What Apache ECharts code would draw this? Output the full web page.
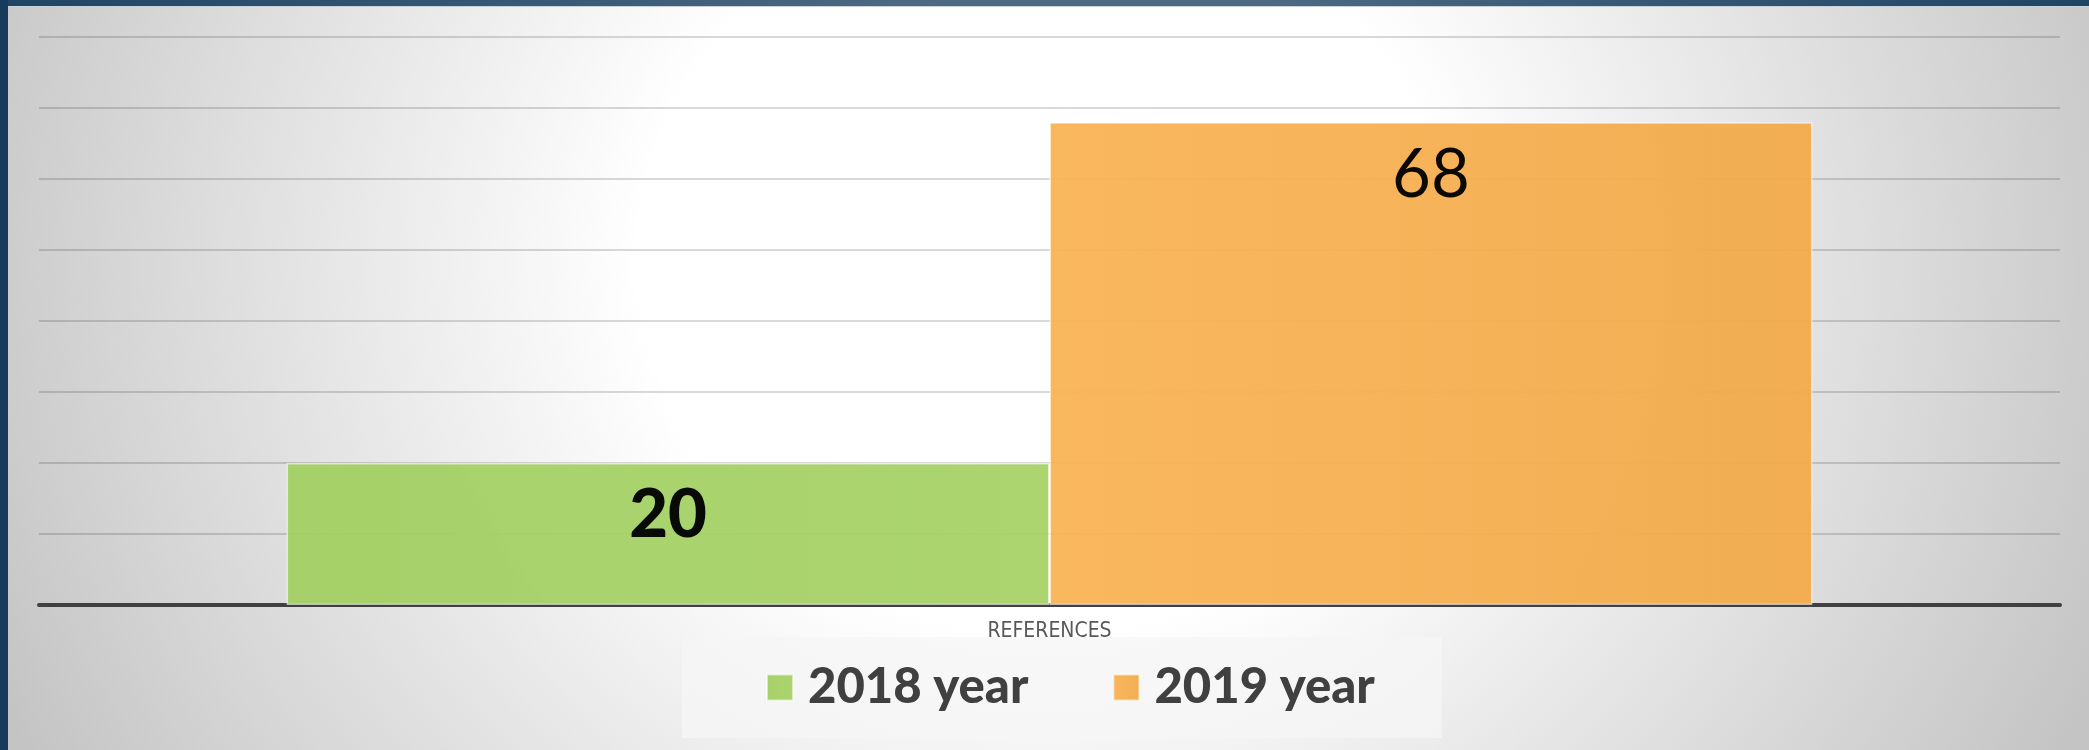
<!DOCTYPE html>
<html>
<head>
<meta charset="utf-8">
<title>References</title>
<script src="https://cdn.jsdelivr.net/npm/echarts@6/dist/echarts.min.js"></script>
<style>
  html, body {
    margin: 0;
    padding: 0;
    width: 2089px;
    height: 750px;
    overflow: hidden;
  }
  .slide {
    position: relative;
    width: 2089px;
    height: 750px;
    background: radial-gradient(ellipse 55% 140% at 50% 35%, #ffffff 35%, #c4c4c4 100%);
  }
  .frame-top {
    position: absolute;
    left: 0;
    top: 0;
    width: 2089px;
    height: 7px;
    background: linear-gradient(90deg, #1f4566 0%, #4c6a84 45%, #4c6a84 60%, #1f4566 100%);
    border-bottom: 1px solid #c9d0d6;
    box-sizing: border-box;
  }
  .frame-left {
    position: absolute;
    left: 0;
    top: 0;
    width: 8px;
    height: 750px;
    background: #163b5d;
  }
  #main {
    position: absolute;
    left: 0;
    top: 0;
    width: 2089px;
    height: 750px;
  }
</style>
</head>
<body>
<div class="slide">
  <div id="main"></div>
  <div class="frame-top"></div>
  <div class="frame-left"></div>
</div>
<script>
// data
const categories = ['REFERENCES'];
const seriesNames = ['2018 year', '2019 year'];
const values2018 = [20];
const values2019 = [68];
const yTicks = [0, 10, 20, 30, 40, 50, 60, 70, 80];

const myChart = echarts.init(document.getElementById('main'));

// bar fill: slight left-to-right shading like the original
function barFill(left, right) {
  return new echarts.graphic.LinearGradient(0, 0, 1, 0, [
    { offset: 0, color: left },
    { offset: 1, color: right },
  ]);
}

myChart.setOption({
  backgroundColor: 'transparent',
  animation: false,
  grid: {
    left: 39,
    right: 29,
    top: 37,
    bottom: 145,
  },
  xAxis: {
    type: 'category',
    data: categories,
    axisLine: {
      show: true,
      lineStyle: { color: '#404040', width: 4 },
    },
    axisTick: { show: false },
    axisLabel: {
      margin: 16,
      fontFamily: '"Liberation Sans Narrow", "DejaVu Sans Condensed", sans-serif',
      fontSize: 21,
      color: '#595959',
    },
  },
  yAxis: {
    type: 'value',
    min: yTicks[0],
    max: yTicks[yTicks.length - 1],
    interval: yTicks[1] - yTicks[0],
    axisLine: { show: false },
    axisTick: { show: false },
    axisLabel: { show: false },
    splitLine: {
      lineStyle: { color: 'rgba(0,0,0,0.2)', width: 1.5 },
    },
  },
  legend: {
    data: seriesNames,
    left: 682,
    top: 637,
    orient: 'horizontal',
    icon: 'rect',
    itemWidth: 26,
    itemHeight: 26,
    itemGap: 84,
    backgroundColor: 'rgba(246,246,246,0.75)',
    padding: [26, 67, 26, 84],
    textStyle: {
      fontFamily: 'Lato, sans-serif',
      fontWeight: 900,
      fontSize: 49,
      color: '#404040',
      padding: [0, 0, 0, 10],
    },
  },
  series: [
    {
      name: seriesNames[0],
      type: 'bar',
      data: values2018,
      barWidth: '37.75%',
      barGap: '0%',
      itemStyle: {
        color: barFill('#a2cf62', '#a7d268'),
        borderColor: 'rgba(255,255,255,0.6)',
        borderWidth: 1.5,
        opacity: 0.95,
      },
      label: {
        show: true,
        position: 'insideTop',
        distance: 19,
        fontFamily: 'Lato, sans-serif',
        fontWeight: 900,
        fontSize: 67,
        color: '#000000',
      },
    },
    {
      name: seriesNames[1],
      type: 'bar',
      data: values2019,
      barWidth: '37.75%',
      barGap: '0%',
      itemStyle: {
        color: barFill('#f9b355', '#f2aa4a'),
        borderColor: 'rgba(255,255,255,0.6)',
        borderWidth: 1.5,
        opacity: 0.95,
      },
      label: {
        show: true,
        position: 'insideTop',
        distance: 20,
        fontFamily: 'Lato, sans-serif',
        fontWeight: 'normal',
        fontSize: 67,
        color: '#000000',
      },
    },
  ],
});
</script>
</body>
</html>
